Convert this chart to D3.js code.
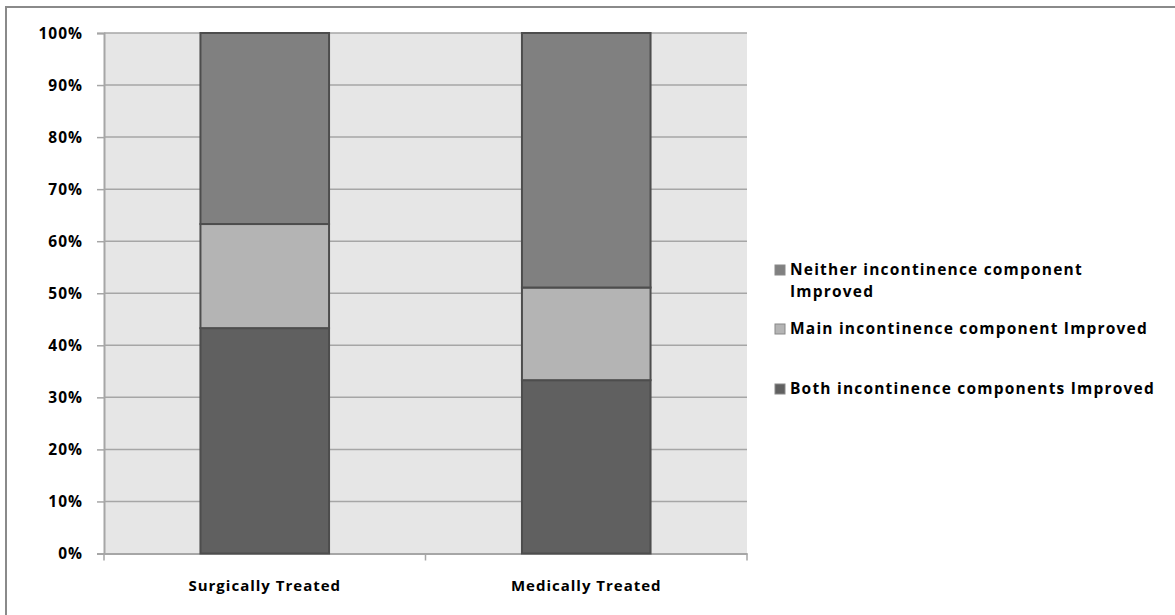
<!DOCTYPE html>
<html><head><meta charset="utf-8">
<script src="https://cdn.jsdelivr.net/npm/d3@7"></script>
<style>body{margin:0;background:#fff}svg{display:block}text{font-family:"Open Sans",Lato,sans-serif;font-weight:bold;fill:#000}</style>
</head><body><svg id="c" width="1175" height="615"></svg>
<script>
const categories = ["Surgically Treated", "Medically Treated"];
const seriesNames = ["Both incontinence components Improved", "Main incontinence component Improved", "Neither incontinence component Improved"];
const bothImproved = [43.3, 33.3];
const mainImproved = [20.0, 17.8];
const neitherImproved = [36.7, 48.9];
const yTicks = [0,10,20,30,40,50,60,70,80,90,100];
const legendLines = [["Neither incontinence component","Improved"],["Main incontinence component Improved"],["Both incontinence components Improved"]];

const colors = ["#606060", "#b4b4b4", "#808080"];
const svg = d3.select("#c");
svg.append("rect").attr("x",6).attr("y",7).attr("width",1200).attr("height",700)
  .attr("fill","#fff").attr("stroke","#8a8a8a").attr("stroke-width",2);

const L=104, R=747, T=33, B=553.5;
const x = d3.scaleBand().domain(categories).range([L,R]).paddingInner(0).paddingOuter(0);
const y = d3.scaleLinear().domain([0,100]).range([B,T]);

svg.append("rect").attr("x",L).attr("y",T).attr("width",R-L).attr("height",B-T).attr("fill","#e6e6e6");
svg.append("g").selectAll("line").data(yTicks.filter(d=>d>0)).join("line")
  .attr("x1",L).attr("x2",R).attr("y1",d=>y(d)).attr("y2",d=>y(d))
  .attr("stroke","#a6a6a6").attr("stroke-width",1.5);

const yAxis = svg.append("g").attr("transform",`translate(${L},0)`)
  .call(d3.axisLeft(y).tickValues(yTicks).tickFormat(d=>d+"%").tickSize(7).tickPadding(14));
yAxis.select(".domain").attr("stroke","#a6a6a6").attr("stroke-width",2);
yAxis.selectAll(".tick line").attr("stroke","#a6a6a6").attr("stroke-width",1.5);
yAxis.selectAll("text").style("font-size","15.5px").style("letter-spacing","1px").attr("fill","#000").attr("dy","0.35em");

const xAxis = svg.append("g").attr("transform",`translate(0,${B})`)
  .call(d3.axisBottom(x).tickSize(0).tickPadding(27));
xAxis.select(".domain").attr("stroke","#a6a6a6").attr("stroke-width",2);
xAxis.selectAll("text").style("font-size","15px").style("letter-spacing","1px").attr("fill","#000");
svg.append("g").selectAll("line").data([L, L+x.bandwidth(), R]).join("line")
  .attr("x1",d=>d).attr("x2",d=>d).attr("y1",B).attr("y2",B+7)
  .attr("stroke","#a6a6a6").attr("stroke-width",1.5);

const table = categories.map((c,i)=>({cat:c, s0:bothImproved[i], s1:mainImproved[i], s2:neitherImproved[i]}));
const stack = d3.stack().keys(["s0","s1","s2"])(table);
const bw = x.bandwidth()*0.4;
svg.append("g").selectAll("g").data(stack).join("g").attr("fill",(d,i)=>colors[i])
  .selectAll("rect").data(d=>d).join("rect")
  .attr("x",d=>x(d.data.cat)+x.bandwidth()/2-bw/2).attr("width",bw)
  .attr("y",d=>y(d[1])).attr("height",d=>y(d[0])-y(d[1]))
  .attr("stroke","#4d4d4d").attr("stroke-width",2);

const lg = svg.append("g");
const legendY = [270, 329, 389];
legendLines.forEach((lines,i)=>{
  const si = 2-i;
  const yy = legendY[i];
  lg.append("rect").attr("x",775).attr("y",yy-5).attr("width",10).attr("height",10)
    .attr("fill",colors[si]).attr("stroke","#888").attr("stroke-width",1);
  lines.forEach((t,j)=>{
    lg.append("text").attr("x",790).attr("y",yy+j*22).attr("dy","0.35em")
      .style("font-size","15.5px").style("letter-spacing","1.2px").text(t);
  });
});
</script></body></html>
